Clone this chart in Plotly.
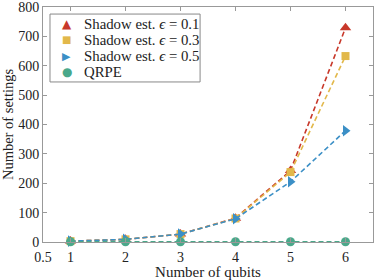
import plotly.graph_objects as go

qubits = [1, 2, 3, 4, 5, 6]
shadow_01 = [3, 9, 27, 81, 243, 729]
shadow_03 = [3, 9, 27, 80, 238, 633]
shadow_05 = [3, 9, 27, 79, 205, 379]
qrpe = [1, 1, 1, 1, 1, 1]

x_ticks = [0.5, 1, 2, 3, 4, 5, 6]
x_ticktext = ["0.5", "1", "2", "3", "4", "5", "6"]
y_ticks = [0, 100, 200, 300, 400, 500, 600, 700, 800]

series_names = ["Shadow est. <i>ϵ</i> = 0.1", "Shadow est. <i>ϵ</i> = 0.3",
                "Shadow est. <i>ϵ</i> = 0.5", "QRPE"]
series_values = [shadow_01, shadow_03, shadow_05, qrpe]
colors = ["#c8382a", "#e2b84a", "#3b8fc6", "#4aa88a"]
symbols = ["triangle-up", "square", "triangle-right", "circle"]
sizes = [10, 8, 10, 9]
legend_glyphs = ["▲", "■", "▶", "●"]
legend_glyph_sizes = [12, 10, 11, 12]

font = "Liberation Serif, DejaVu Serif, serif"
fig = go.Figure()
for name, ys, color, sym, sz in zip(series_names, series_values, colors, symbols, sizes):
    fig.add_trace(go.Scatter(
        x=qubits, y=ys, name=name, mode="lines+markers", showlegend=False,
        line=dict(color=color, width=1.6, dash="5px,3px"),
        marker=dict(symbol=sym, size=sz, color=color),
        cliponaxis=False,
    ))

# legend drawn as a box with text entries
box_x0, box_x1, box_y0, box_y1 = 0.0212, 0.476, 0.681, 0.970
fig.add_shape(type="rect", xref="paper", yref="paper",
              x0=box_x0, x1=box_x1, y0=box_y0, y1=box_y1,
              line=dict(color="#888888", width=1), fillcolor="white", layer="above")
entry_y = [0.928, 0.860, 0.791, 0.723]
for name, color, g, gs, yy in zip(series_names, colors, legend_glyphs, legend_glyph_sizes, entry_y):
    fig.add_annotation(xref="paper", yref="paper", x=0.0727, y=yy, text=g,
                       showarrow=False, xanchor="center", yanchor="middle",
                       font=dict(family="DejaVu Sans", size=gs, color=color))
    fig.add_annotation(xref="paper", yref="paper", x=0.117, y=yy, text=name,
                       showarrow=False, xanchor="left", yanchor="middle",
                       font=dict(family=font, size=14.8, color="#222222"))

axis_common = dict(
    showline=True, linecolor="#999999", linewidth=1, mirror="ticks",
    ticks="inside", ticklen=4, tickcolor="#999999", showgrid=False,
    zeroline=False, automargin=False, ticklabeloverflow="allow",
)
fig.update_layout(
    width=374, height=280,
    margin=dict(l=43, r=1, t=7, b=38),
    paper_bgcolor="white", plot_bgcolor="white",
    font=dict(family=font, size=14, color="#222222"),
    xaxis=dict(range=[0.5, 6.5], tickvals=x_ticks, ticktext=x_ticktext,
               tickfont=dict(family=font, size=14, color="#222222"),
               ticklabelstandoff=2,
               title=dict(text="Number of qubits", standoff=5,
                          font=dict(family=font, size=15)),
               **axis_common),
    yaxis=dict(range=[0, 800], tickvals=y_ticks,
               tickfont=dict(family=font, size=14, color="#222222"),
               title=dict(text="Number of settings", standoff=3,
                          font=dict(family=font, size=14.5)),
               **axis_common),
    showlegend=False,
)
fig.write_html("out.html", config={"displayModeBar": False},
               post_script="document.body.style.margin='0';document.body.style.overflow='hidden';")
